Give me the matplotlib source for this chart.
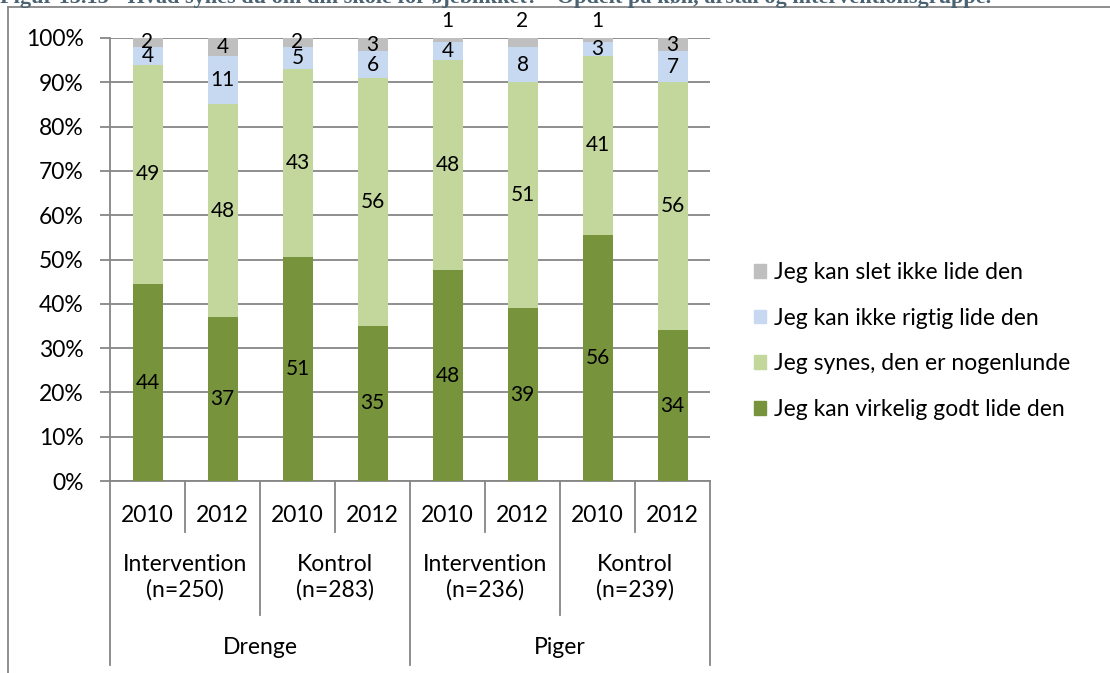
#!/usr/bin/python

# Stacked 100% bars: how pupils like their school, by gender, year and group
# saves out.png

import matplotlib
matplotlib.use('Agg')
import matplotlib.pyplot as plt
from matplotlib.lines import Line2D
from matplotlib.patches import Patch
import numpy as np

plt.rcParams['font.family'] = ['Lato', 'DejaVu Sans']

years = ['2010', '2012', '2010', '2012', '2010', '2012', '2010', '2012']
groups = ['Intervention\n(n=250)', 'Kontrol\n(n=283)',
          'Intervention\n(n=236)', 'Kontrol\n(n=239)']
genders = ['Drenge', 'Piger']

series = ['Jeg kan virkelig godt lide den', 'Jeg synes, den er nogenlunde',
          'Jeg kan ikke rigtig lide den', 'Jeg kan slet ikke lide den']
virkelig = [44, 37, 51, 35, 48, 39, 56, 34]
nogenlunde = [49, 48, 43, 56, 48, 51, 41, 56]
ikke_rigtig = [4, 11, 5, 6, 4, 8, 3, 7]
slet_ikke = [2, 4, 2, 3, 1, 2, 1, 3]

colors = ['#77933C', '#C3D69B', '#C6D9F1', '#BFBFBF']
grid_col = '#868686'
fs = 16.5

W, H = 1110, 673
fig = plt.figure(figsize=(W / 100., H / 100.), dpi=100)

# axes box in pixels
x0, x1, y0, y1 = 110, 710, 481, 38
ax = fig.add_axes([x0 / W, 1 - y0 / H, (x1 - x0) / W, (y0 - y1) / H])

vals = np.array([virkelig, nogenlunde, ikke_rigtig, slet_ikke], dtype=float)
pct = vals / vals.sum(axis=0) * 100
x = np.arange(len(years))

# labels that Excel pushed above the bar
above = [4, 5, 6]

bottom = np.zeros(len(years))
for k in range(4):
    ax.bar(x, pct[k], 0.4, bottom=bottom, color=colors[k], zorder=3)
    for i in range(len(years)):
        yc = bottom[i] + pct[k][i] / 2.
        if k == 3 and i in above:
            yc = 103.8
        ax.text(x[i], yc, '%d' % vals[k][i], ha='center', va='center',
                fontsize=15, color='black', zorder=4, clip_on=False)
    bottom += pct[k]

ax.set_xlim(-0.5, 7.5)
ax.set_ylim(0, 100)
ax.set_yticks(np.arange(0, 101, 10))
ax.set_yticklabels(['%d%%' % v for v in range(0, 101, 10)], fontsize=fs)
ax.yaxis.grid(True, color=grid_col, lw=1.3, zorder=0)
ax.set_xticks([])
ax.tick_params(axis='y', length=7, width=1.3, color=grid_col, pad=12)
for s in ['top', 'right']:
    ax.spines[s].set_visible(False)
ax.spines['left'].set_color(grid_col)
ax.spines['bottom'].set_color(grid_col)
ax.spines['left'].set_linewidth(1.3)
ax.spines['bottom'].set_linewidth(1.3)

# multi-level category axis
h = float(y0 - y1)
def ay(py):
    return -(py - y0) / h

lv1, lv2, lv3 = ay(532), ay(615), ay(665)
for xs, yb in [([0.5, 2.5, 4.5, 6.5], lv1), ([1.5, 5.5], lv2),
               ([-0.5, 3.5, 7.5], lv3)]:
    for xv in xs:
        ax.add_line(Line2D([xv, xv], [0, yb], color=grid_col, lw=1.3,
                           transform=ax.get_xaxis_transform(), clip_on=False))

for i, yr in enumerate(years):
    ax.text(i, ay(515), yr, ha='center', va='center', fontsize=fs,
            transform=ax.get_xaxis_transform())
for j, g in enumerate(groups):
    ax.text(2 * j + 0.5, ay(577), g, ha='center', va='center', fontsize=fs,
            linespacing=1.25, transform=ax.get_xaxis_transform())
for j, g in enumerate(genders):
    ax.text(4 * j + 1.5, ay(648), g, ha='center', va='center', fontsize=fs,
            transform=ax.get_xaxis_transform())

# legend, top entry first
handles = [Patch(color=colors[k], label=series[k]) for k in [3, 2, 1, 0]]
fig.legend(handles=handles, loc='center left', bbox_to_anchor=(733 / W, 1 - 341 / H),
           frameon=False, fontsize=fs, handlelength=0.55, handleheight=0.55,
           handletextpad=0.35, labelspacing=1.08)

# chart frame and clipped caption
fig.add_artist(Line2D([8 / W, 8 / W], [0, 1 - 7 / H], color=grid_col, lw=1.3))
fig.add_artist(Line2D([8 / W, 1], [1 - 7 / H, 1 - 7 / H], color=grid_col, lw=1.3))
fig.text(0, 1 - 3.5 / H,
         'Figur 15.15 - Hvad synes du om din skole for øjeblikket? - '
         'Opdelt på køn, årstal og interventionsgruppe.',
         ha='left', va='baseline', fontsize=16, fontweight='bold',
         family='Liberation Serif', color='#4a6272')

fig.savefig('out.png', dpi=100)
